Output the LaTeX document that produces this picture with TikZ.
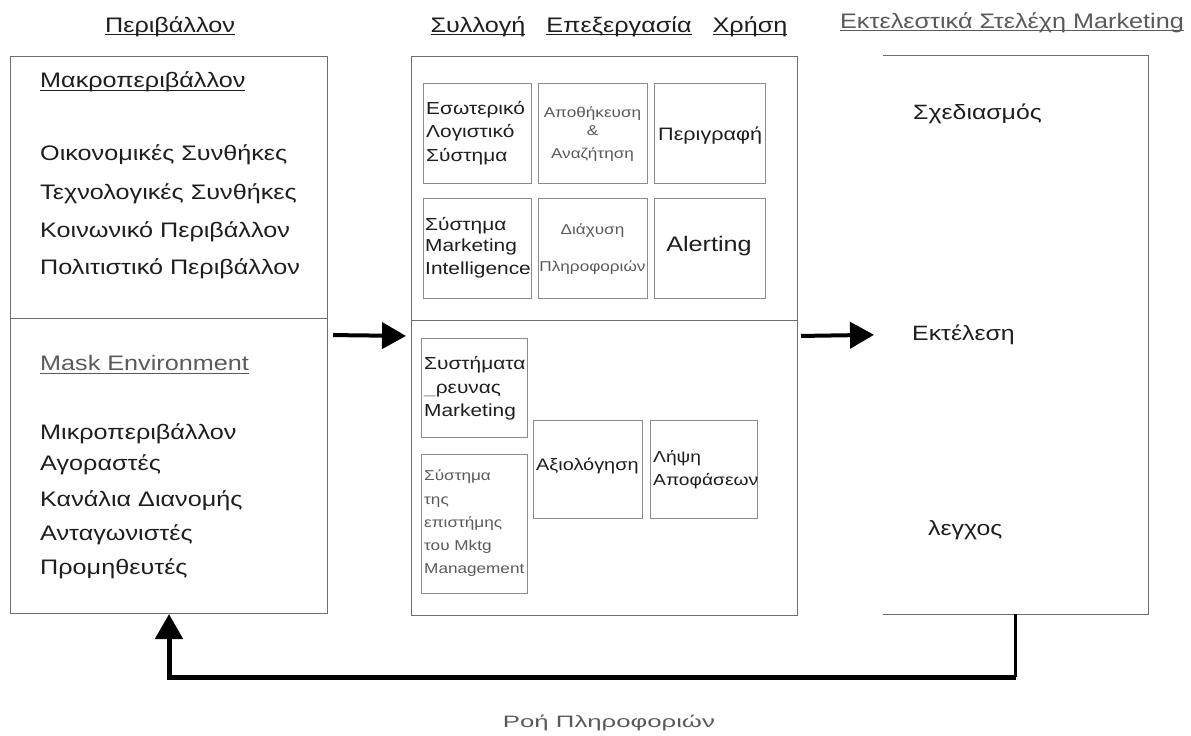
\documentclass[tikz,border=0pt]{standalone}
\usepackage{fontspec}
\usepackage{graphicx}
\setmainfont{Liberation Sans}[FakeStretch=1.2]
\usetikzlibrary{arrows.meta}
\newcommand\myul[1]{\leavevmode\setbox0\hbox{#1}\rlap{\copy0}\rule[-3pt]{\wd0}{1pt}}
\definecolor{linegray}{HTML}{6E6E6E}
\definecolor{inkgray}{HTML}{1E1E1E}
\definecolor{softgray}{HTML}{5A5A5A}
\tikzset{
  box/.style={draw=linegray, line width=1pt, inner sep=0pt, anchor=north west},
  ibox/.style={draw=linegray!80, line width=0.9pt, inner sep=0pt, anchor=north west},
  txt/.style={inner sep=0pt, anchor=base west, text=inkgray},
  big/.style={txt, font=\fontsize{21}{25}\selectfont},
  hdr/.style={inner sep=0pt, anchor=base, text=inkgray, font=\fontsize{21}{25}\selectfont},
  mid/.style={txt, font=\fontsize{17.4}{21}\selectfont},
  evalf/.style={txt, font=\fontsize{16.6}{20}\selectfont},
  decf/.style={txt, font=\fontsize{16}{20}\selectfont},
  execf/.style={txt, font=\fontsize{20.7}{25}\selectfont},
  small/.style={txt, text=softgray, font=\fontsize{14.3}{17}\selectfont},
  flow/.style={draw=black, line width=4pt, -{Triangle[length=24pt,width=26pt]}},
}
\begin{document}
\begin{tikzpicture}[x=1pt,y=-1pt]
\useasboundingbox (0,0) rectangle (1191,736);
\fill[white] (0,0) rectangle (1191,736);

% headers
\node[hdr] (hEnv) at (170,32) {\myul{Περιβάλλον}};
\node[hdr] (hSyl) at (478,32) {\myul{Συλλογή}};
\node[hdr] (hEpe) at (619,32) {\myul{Επεξεργασία}};
\node[hdr] (hXri) at (750,32) {\myul{Χρήση}};
\node[hdr, text=softgray] (hExe) at (1012,28) {\myul{Εκτελεστικά Στελέχη Marketing}};

% main boxes
\node[box, minimum width=317pt, minimum height=557pt] (env) at (10,56) {};
\draw[linegray, line width=1pt] (env.west |- 0,318) -- (env.east |- 0,318);
\node[box, minimum width=386pt, minimum height=559pt] (mid) at (411,56) {};
\draw[linegray, line width=1pt] (mid.west |- 0,320) -- (mid.east |- 0,320);
\node[inner sep=0pt, anchor=north west, minimum width=265pt, minimum height=559pt] (exec) at (883,55) {};
\draw[linegray, line width=1pt] (exec.north west) -- (exec.north east) -- (exec.south east) -- (exec.south west);

% left texts
\node[big] (macro) at (40,87.5) {\myul{Μακροπεριβάλλον}};
\node[big] (l1) at (40,160.5) {Οικονομικές Συνθήκες};
\node[big] (l2) at (40,199.5) {Τεχνολογικές Συνθήκες};
\node[big] (l3) at (40,237.5) {Κοινωνικό Περιβάλλον};
\node[big] (l4) at (40,274.5) {Πολιτιστικό Περιβάλλον};
\node[big, text=softgray] (mask) at (40,370.5) {\myul{Mask Environment}};
\node[big] (m1) at (40,439.5) {Μικροπεριβάλλον};
\node[big] (m2) at (40,470.5) {Αγοραστές};
\node[big] (m3) at (40,506.5) {Κανάλια Διανομής};
\node[big] (m4) at (40,540.5) {Ανταγωνιστές};
\node[big] (m5) at (40,574.5) {Προμηθευτές};

% inner boxes
\node[ibox, minimum width=108pt, minimum height=100pt] (b1) at (423,83) {};
\node[ibox, minimum width=109pt, minimum height=100pt] (b2) at (538,83) {};
\node[ibox, minimum width=111pt, minimum height=100pt] (b3) at (654,83) {};
\node[ibox, minimum width=108pt, minimum height=100pt] (b4) at (423,198) {};
\node[ibox, minimum width=109pt, minimum height=100pt] (b5) at (538,198) {};
\node[ibox, minimum width=111pt, minimum height=100pt] (b6) at (654,198) {};
\node[ibox, minimum width=106pt, minimum height=99pt] (b7) at (421,338) {};
\node[ibox, minimum width=106pt, minimum height=139pt] (b8) at (421,454) {};
\node[ibox, minimum width=109pt, minimum height=98pt] (b9) at (533,420) {};
\node[ibox, minimum width=107pt, minimum height=98pt] (b10) at (650,420) {};

\node[mid] (t1a) at (426,114) {Εσωτερικό};
\node[mid] (t1b) at (426,137) {Λογιστικό};
\node[mid] (t1c) at (426,161) {Σύστημα};
\node[small, anchor=base] (t2a) at (592.5,117) {Αποθήκευση};
\node[small, anchor=base] (t2b) at (592.5,135) {\&};
\node[small, anchor=base] (t2c) at (592.5,158) {Αναζήτηση};
\node[txt, font=\fontsize{18}{22}\selectfont] (t3) at (658,140) {Περιγραφή};
\node[mid] (t4a) at (425,230) {Σύστημα};
\node[mid] (t4b) at (425,251) {Marketing};
\node[mid] (t4c) at (425,274) {Intelligence};
\node[small, anchor=base] (t5a) at (592.5,234) {Διάχυση};
\node[small, anchor=base] (t5b) at (592.5,271) {Πληροφοριών};
\node[txt, anchor=base, font=\fontsize{21}{25}\selectfont] (t6) at (709,251) {Alerting};
\node[mid] (t7a) at (424,369) {Συστήματα};
\node[mid] (t7b) at (424,393) {{\color{softgray!60}\_}ρευνας};
\node[mid] (t7c) at (424,416) {Marketing};
\node[small] (t8a) at (424,480) {Σύστημα};
\node[small] (t8b) at (424,504) {της};
\node[small] (t8c) at (424,527) {επιστήμης};
\node[small] (t8d) at (424,550) {του Mktg};
\node[small] (t8e) at (424,573) {Management};
\node[evalf] (t9) at (536,470) {Αξιολόγηση};
\node[decf] (t10a) at (653,462) {Λήψη};
\node[decf] (t10b) at (653,485) {Αποφάσεων};

% right texts
\node[execf] (e1) at (913,119) {Σχεδιασμός};
\node[execf] (e2) at (912,340) {Εκτέλεση};
\node[execf] (e3) at (928,535) {λεγχος};

% arrows
\draw[flow, shorten <=5pt, shorten >=5pt] (env.east) -- (mid.west);
\draw[flow, shorten <=3pt, shorten >=9pt] (mid.east) -- (exec.west);
\coordinate (corner) at (exec.south |- 0,677);
\draw[black, line width=2.5pt] (exec.south) -- (corner);
\draw[black, line width=5pt, -{Triangle[length=25pt,width=27pt]}] (corner) -| (env.south);

\node[inner sep=0pt, anchor=base, text=softgray, font=\fontsize{16.5}{19}\selectfont] (flowlbl) at (609,727) {\scalebox{1.3}[1]{Ροή Πληροφοριών}};
\end{tikzpicture}
\end{document}
